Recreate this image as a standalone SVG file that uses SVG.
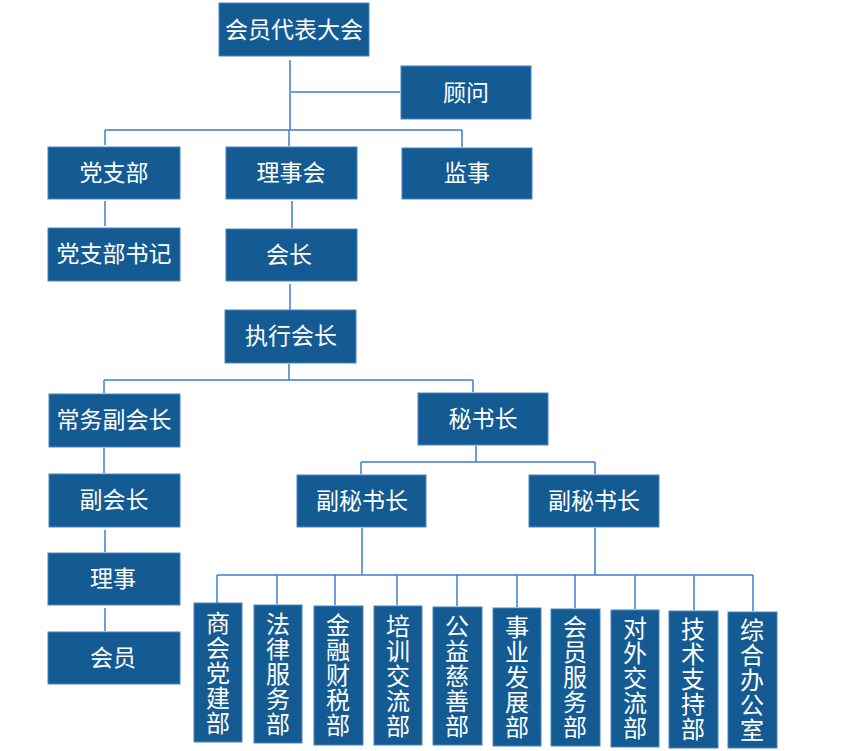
<svg xmlns="http://www.w3.org/2000/svg" width="854" height="751" viewBox="0 0 854 751">
<style>
.b{fill:#135b92;stroke:#4a86bd;stroke-width:1}
.t{fill:#ffffff;font-family:"Noto Sans CJK SC",sans-serif;font-size:23px;text-anchor:middle}
.v{fill:#ffffff;font-family:"Noto Sans CJK SC",sans-serif;font-size:24px;text-anchor:middle}
.c{fill:none;stroke:#3a80d0;stroke-width:1.5}
</style>
<rect width="854" height="751" fill="#ffffff"/>
<g id="connectors" class="c">
<path d="M290 60V130M291 92H400M105 130H462M105 130V145M289 130V146M462 130V147"/>
<path d="M105 201V226M292 201V228M290 284V310"/>
<path d="M289 364V380M104 380H473M104 380V393M473 380V392"/>
<path d="M104 448V473M105 530V552M105 608V631"/>
<path d="M476 446V462M361 462H595M361 462V474M595 462V474"/>
<path d="M362 528V574M595 528V575M217 575H753"/>
<path d="M217 575V603M277 575V604M335 575V605M397 575V605M457 575V606M517 575V607M575 575V608M635 575V609M694 575V610M753 575V611"/>
</g>
<g id="n1"><rect class="b" x="219" y="3" width="150" height="53"/><text class="t" x="294" y="38">会员代表大会</text></g>
<g id="n2"><rect class="b" x="401" y="66" width="130" height="53"/><text class="t" x="466" y="101">顾问</text></g>
<g id="n3"><rect class="b" x="48" y="147" width="132" height="52"/><text class="t" x="114" y="181">党支部</text></g>
<g id="n4"><rect class="b" x="226" y="147" width="131" height="52"/><text class="t" x="291" y="181">理事会</text></g>
<g id="n5"><rect class="b" x="402" y="148" width="130" height="51"/><text class="t" x="467" y="181">监事</text></g>
<g id="n6"><rect class="b" x="48" y="228" width="132" height="53"/><text class="t" x="114" y="262">党支部书记</text></g>
<g id="n7"><rect class="b" x="226" y="229" width="131" height="52"/><text class="t" x="289" y="263">会长</text></g>
<g id="n8"><rect class="b" x="225" y="310" width="131" height="53"/><text class="t" x="291" y="344">执行会长</text></g>
<g id="n9"><rect class="b" x="49" y="394" width="131" height="53"/><text class="t" x="114" y="428">常务副会长</text></g>
<g id="n10"><rect class="b" x="418" y="393" width="130" height="52"/><text class="t" x="483" y="427">秘书长</text></g>
<g id="n11"><rect class="b" x="49" y="474" width="131" height="53"/><text class="t" x="114" y="508">副会长</text></g>
<g id="n12"><rect class="b" x="297" y="475" width="129" height="52"/><text class="t" x="362" y="509">副秘书长</text></g>
<g id="n13"><rect class="b" x="529" y="475" width="130" height="52"/><text class="t" x="594" y="509">副秘书长</text></g>
<g id="n14"><rect class="b" x="48" y="553" width="132" height="52"/><text class="t" x="113" y="587">理事</text></g>
<g id="n15"><rect class="b" x="48" y="632" width="132" height="52"/><text class="t" x="113" y="666">会员</text></g>
<g id="d1"><rect class="b" x="194" y="603" width="48" height="139"/><text class="v" x="218"><tspan x="218" y="632">商</tspan><tspan x="218" y="657">会</tspan><tspan x="218" y="682">党</tspan><tspan x="218" y="707">建</tspan><tspan x="218" y="732">部</tspan></text></g>
<g id="d2"><rect class="b" x="254" y="605" width="48" height="138"/><text class="v" x="278"><tspan x="278" y="633">法</tspan><tspan x="278" y="658">律</tspan><tspan x="278" y="683">服</tspan><tspan x="278" y="708">务</tspan><tspan x="278" y="733">部</tspan></text></g>
<g id="d3"><rect class="b" x="314" y="606" width="49" height="139"/><text class="v" x="338"><tspan x="338" y="634">金</tspan><tspan x="338" y="659">融</tspan><tspan x="338" y="684">财</tspan><tspan x="338" y="709">税</tspan><tspan x="338" y="734">部</tspan></text></g>
<g id="d4"><rect class="b" x="374" y="606" width="48" height="139"/><text class="v" x="398"><tspan x="398" y="635">培</tspan><tspan x="398" y="660">训</tspan><tspan x="398" y="685">交</tspan><tspan x="398" y="710">流</tspan><tspan x="398" y="735">部</tspan></text></g>
<g id="d5"><rect class="b" x="433" y="607" width="49" height="138"/><text class="v" x="457"><tspan x="457" y="635">公</tspan><tspan x="457" y="660">益</tspan><tspan x="457" y="685">慈</tspan><tspan x="457" y="710">善</tspan><tspan x="457" y="735">部</tspan></text></g>
<g id="d6"><rect class="b" x="493" y="608" width="48" height="138"/><text class="v" x="517"><tspan x="517" y="636">事</tspan><tspan x="517" y="661">业</tspan><tspan x="517" y="686">发</tspan><tspan x="517" y="711">展</tspan><tspan x="517" y="736">部</tspan></text></g>
<g id="d7"><rect class="b" x="551" y="609" width="49" height="137"/><text class="v" x="575"><tspan x="575" y="636">会</tspan><tspan x="575" y="661">员</tspan><tspan x="575" y="686">服</tspan><tspan x="575" y="711">务</tspan><tspan x="575" y="736">部</tspan></text></g>
<g id="d8"><rect class="b" x="611" y="610" width="48" height="137"/><text class="v" x="635"><tspan x="635" y="637">对</tspan><tspan x="635" y="662">外</tspan><tspan x="635" y="687">交</tspan><tspan x="635" y="712">流</tspan><tspan x="635" y="737">部</tspan></text></g>
<g id="d9"><rect class="b" x="669" y="611" width="49" height="137"/><text class="v" x="693"><tspan x="693" y="638">技</tspan><tspan x="693" y="663">术</tspan><tspan x="693" y="688">支</tspan><tspan x="693" y="713">持</tspan><tspan x="693" y="738">部</tspan></text></g>
<g id="d10"><rect class="b" x="728" y="612" width="49" height="136"/><text class="v" x="752"><tspan x="752" y="639">综</tspan><tspan x="752" y="664">合</tspan><tspan x="752" y="689">办</tspan><tspan x="752" y="714">公</tspan><tspan x="752" y="739">室</tspan></text></g>
</svg>
